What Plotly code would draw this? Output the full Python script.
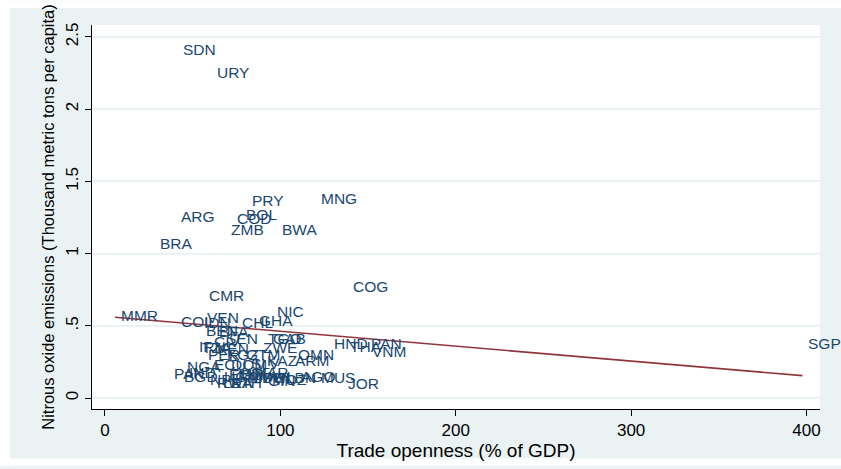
import numpy as np
import plotly.graph_objects as go

countries = ["SDN", "URY", "PRY", "MNG", "ARG", "BOL", "COD", "ZMB", "BWA", "BRA",
             "COG", "CMR", "NIC", "MMR", "VEN", "COL", "IDN", "CHL", "GHA", "BEN",
             "BFA", "SEN", "CIV", "TGO", "GAB", "TZA", "KEN", "ZWE", "IRN", "PER",
             "KGZ", "GTM", "OMN", "ARM", "NGA", "ECU", "DOM", "SLV", "KAZ", "PAK",
             "IND", "HTI", "MAR", "BGD", "EGY", "PHL", "LBN", "AGO", "MUS", "LKA",
             "JOR", "HND", "THA", "PAN", "VNM", "SGP",
             "UGA", "NPL", "MLI", "ETH", "MDG", "MOZ", "RWA", "MWI", "GIN"]
trade = [41.0, 60.4, 80.3, 119.7, 39.9, 76.9, 71.8, 68.4, 97.4, 27.9,
         137.9, 55.8, 94.6, 5.7, 54.7, 39.9, 53.0, 74.6, 84.3, 54.1,
         61.5, 65.5, 58.7, 89.5, 92.3, 51.9, 60.4, 86.6, 50.1, 55.3,
         66.1, 76.9, 106.6, 104.8, 43.3, 58.7, 68.4, 79.8, 88.9, 35.9,
         44.4, 74.1, 81.5, 41.6, 67.2, 87.2, 99.7, 108.3, 119.7, 63.8,
         135.0, 127.1, 136.2, 148.1, 148.7, 397.7,
         64.6, 56.6, 72.6, 68.6, 78.6, 91.6, 60.6, 84.6, 89.6]
n2o = [2.41, 2.25, 1.37, 1.38, 1.26, 1.27, 1.24, 1.17, 1.17, 1.07,
       0.77, 0.71, 0.60, 0.57, 0.56, 0.53, 0.52, 0.52, 0.54, 0.47,
       0.46, 0.41, 0.39, 0.41, 0.41, 0.35, 0.34, 0.35, 0.36, 0.30,
       0.30, 0.30, 0.30, 0.26, 0.22, 0.23, 0.23, 0.24, 0.26, 0.17,
       0.18, 0.17, 0.18, 0.15, 0.16, 0.14, 0.14, 0.15, 0.14, 0.11,
       0.10, 0.38, 0.36, 0.38, 0.32, 0.38,
       0.15, 0.13, 0.16, 0.11, 0.14, 0.13, 0.11, 0.15, 0.12]

y_tickvals = [0, 0.5, 1, 1.5, 2, 2.5]
y_ticktext = ["0", ".5", "1", "1.5", "2", "2.5"]
x_tickvals = [0, 100, 200, 300, 400]

BG = "#EAF2F3"
NAVY = "#1a476f"
MAROON = "#90353b"
FONT = "Liberation Sans, Arial, sans-serif"

# linear fit (Stata lfit) over the range of the data
slope, intercept = np.polyfit(trade, n2o, 1)
xfit = np.array([min(trade), max(trade)])
yfit = intercept + slope * xfit

fig = go.Figure()
fig.add_trace(go.Scatter(
    x=trade, y=n2o, text=countries, mode="markers",
    marker=dict(size=1, opacity=0), hoverinfo="text", showlegend=False,
))
fig.add_trace(go.Scatter(
    x=xfit, y=yfit, mode="lines",
    line=dict(color=MAROON, width=1.6), hoverinfo="skip", showlegend=False,
))

annotations = [
    dict(x=xv, y=yv, text=lab, xref="x", yref="y", showarrow=False,
         xanchor="left", yanchor="middle", xshift=4,
         font=dict(family=FONT, size=15.5, color=NAVY))
    for lab, xv, yv in zip(countries, trade, n2o)
]

fig.update_layout(
    width=841, height=469,
    margin=dict(l=92, r=21, t=25, b=57),
    paper_bgcolor=BG, plot_bgcolor="white",
    font=dict(family=FONT, color="black"),
    showlegend=False,
    annotations=annotations,
    shapes=[
        dict(type="rect", xref="paper", yref="paper", x0=-92/728, x1=-82/728, y0=-57/387, y1=412/387,
             fillcolor="white", line=dict(width=0), layer="above"),
        dict(type="rect", xref="paper", yref="paper", x0=-92/728, x1=749/728, y0=(387+17)/387, y1=(387+25)/387,
             fillcolor="white", line=dict(width=0), layer="above"),
        dict(type="rect", xref="paper", yref="paper", x0=-92/728, x1=749/728, y0=-57/387, y1=-50/387,
             fillcolor="white", line=dict(width=0), layer="above"),
    ],
)
fig.update_xaxes(
    range=[-7.4, 407.7], tickvals=x_tickvals, ticks="outside", ticklen=6,
    tickcolor="black", showline=True, linecolor="black", linewidth=1,
    showgrid=False, zeroline=False,
    tickfont=dict(size=17),
    title=dict(text="Trade openness (% of GDP)", font=dict(size=19), standoff=3),
)
fig.update_yaxes(
    range=[-0.0755, 2.582], tickvals=y_tickvals, ticktext=y_ticktext,
    ticks="outside", ticklen=6, tickcolor="black", tickangle=-90,
    showline=True, linecolor="black", linewidth=1,
    showgrid=True, gridcolor=BG, gridwidth=1.5, zeroline=False,
    tickfont=dict(size=17),
    title=dict(text="Nitrous oxide emissions (Thousand metric tons per capita)",
               font=dict(size=16.5), standoff=4),
)

fig.write_html("out.html")
